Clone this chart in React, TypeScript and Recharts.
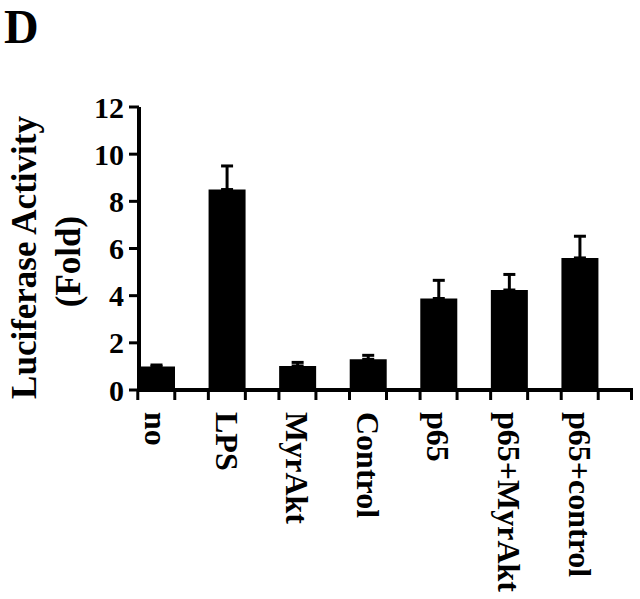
import { BarChart, Bar, XAxis, YAxis, ErrorBar } from "recharts";

const treatments = ["no", "LPS", "MyrAkt", "Control", "p65", "p65+MyrAkt", "p65+control"];
const foldActivity = [1.0, 8.5, 1.02, 1.3, 3.88, 4.24, 5.6];
const foldError = [0.06, 1.0, 0.15, 0.17, 0.77, 0.66, 0.92];
const yTicks = [0, 2, 4, 6, 8, 10, 12];

// error bars only go up, so the lower part is 0
const data = treatments.map((name, i) => ({
  name,
  fold: foldActivity[i],
  err: [0, foldError[i]],
}));

const FONT = '"Liberation Serif", "Times New Roman", Times, serif';
const W = 640;
const H = 599;
const PLOT_LEFT = 139;
const PLOT_RIGHT = 633;
const PLOT_TOP = 107;
const PLOT_BOTTOM = 390;
const BAR = 37;

function TreatmentTick({ x, y, payload, index }: any) {
  const half = BAR / 2;
  return (
    <g>
      <line x1={x - half} x2={x - half} y1={y} y2={y + 10} stroke="#000" strokeWidth={3} />
      <line x1={x + half} x2={x + half} y1={y} y2={y + 10} stroke="#000" strokeWidth={3} />
      {index === treatments.length - 1 ? (
        <line x1={PLOT_RIGHT - 1.5} x2={PLOT_RIGHT - 1.5} y1={y} y2={y + 10} stroke="#000" strokeWidth={3} />
      ) : null}
      <text
        transform={`translate(${x},${y + 22}) rotate(90)`}
        dy="0.35em"
        fontFamily={FONT}
        fontWeight="bold"
        fontSize={32}
        fill="#000"
      >
        {payload.value}
      </text>
    </g>
  );
}

function FoldLabel({ viewBox }: any) {
  const vx = viewBox?.x ?? 0;
  const cy = (viewBox ? viewBox.y + viewBox.height / 2 : (PLOT_TOP + PLOT_BOTTOM) / 2) + 9;
  const common = { fontFamily: FONT, fontWeight: "bold" as const, fontSize: 35, fill: "#000", textAnchor: "middle" as const, dy: "0.33em" };
  return (
    <g>
      <text transform={`translate(${vx + 24},${cy}) rotate(-90)`} {...common}>
        Luciferase Activity
      </text>
      <text transform={`translate(${vx + 68},${cy + 4}) rotate(-90)`} {...common}>
        (Fold)
      </text>
    </g>
  );
}

export default function App() {
  return (
    <div style={{ position: "absolute", left: 0, top: 0, width: W, height: H, background: "#fff" }}>
      <svg width={80} height={70} style={{ position: "absolute", left: 0, top: 0 }}>
        <text x={4} y={43} fontFamily={FONT} fontWeight="bold" fontSize={48} fill="#000">
          D
        </text>
      </svg>
      <BarChart
        width={W}
        height={H}
        data={data}
        margin={{ top: PLOT_TOP, right: W - PLOT_RIGHT, left: 0, bottom: 0 }}
      >
        <XAxis
          dataKey="name"
          height={H - PLOT_BOTTOM}
          interval={0}
          padding={{ left: -18, right: 18 }}
          axisLine={{ stroke: "#000", strokeWidth: 4 }}
          tickLine={false}
          tickSize={0}
          tickMargin={0}
          tick={<TreatmentTick />}
        />
        <YAxis
          width={PLOT_LEFT}
          domain={[0, 12]}
          ticks={yTicks}
          interval={0}
          axisLine={{ stroke: "#000", strokeWidth: 4 }}
          tickLine={{ stroke: "#000", strokeWidth: 3 }}
          tickSize={10}
          tickMargin={5}
          tick={{ fontFamily: FONT, fontWeight: "bold", fontSize: 30, fill: "#000" }}
          label={{ content: (p: any) => <FoldLabel {...p} /> }}
        />
        <Bar dataKey="fold" fill="#000" barSize={BAR} isAnimationActive={false}>
          <ErrorBar dataKey="err" direction="y" width={6} stroke="#000" strokeWidth={3} />
        </Bar>
      </BarChart>
    </div>
  );
}
